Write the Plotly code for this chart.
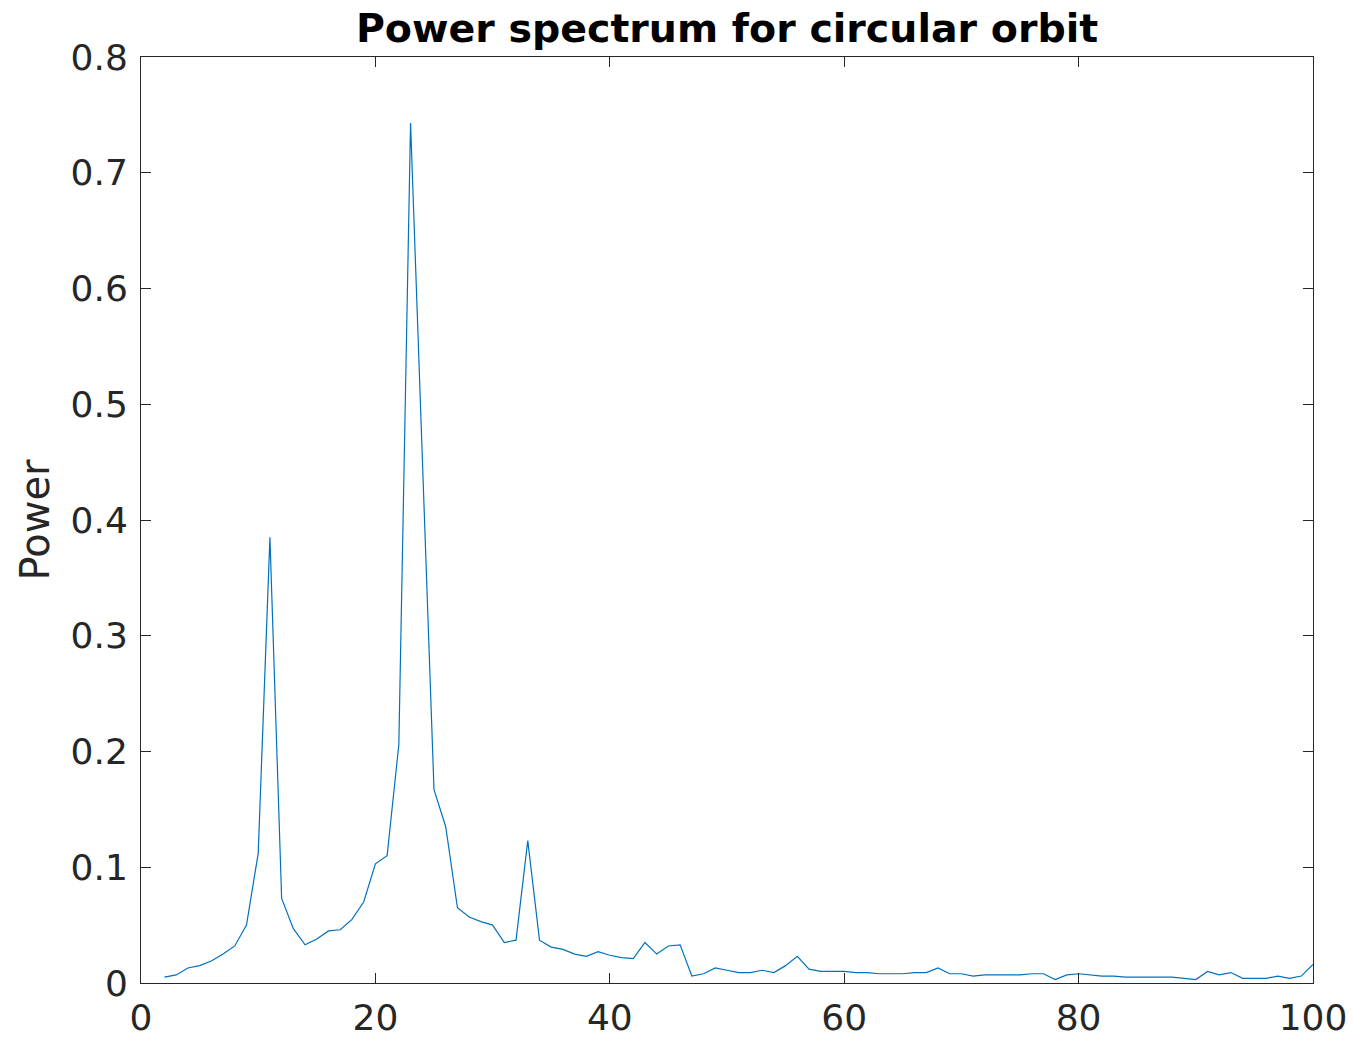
import plotly.graph_objects as go

freq = list(range(2, 101))
power = [
    0.005, 0.007, 0.013, 0.015, 0.019, 0.025, 0.032, 0.050, 0.112, 0.385,   # 2-11
    0.073, 0.047, 0.033, 0.038, 0.045, 0.046, 0.055, 0.070, 0.103, 0.110,   # 12-21
    0.206, 0.743, 0.455, 0.167, 0.135, 0.065, 0.057, 0.053, 0.050, 0.035,   # 22-31
    0.037, 0.123, 0.037, 0.031, 0.029, 0.025, 0.023, 0.027, 0.024, 0.022,   # 32-41
    0.021, 0.035, 0.025, 0.032, 0.033, 0.006, 0.008, 0.013, 0.011, 0.009,   # 42-51
    0.009, 0.011, 0.009, 0.015, 0.023, 0.012, 0.010, 0.010, 0.010, 0.009,   # 52-61
    0.009, 0.008, 0.008, 0.008, 0.009, 0.009, 0.013, 0.008, 0.008, 0.006,   # 62-71
    0.007, 0.007, 0.007, 0.007, 0.008, 0.008, 0.003, 0.007, 0.008, 0.007,   # 72-81
    0.006, 0.006, 0.005, 0.005, 0.005, 0.005, 0.005, 0.004, 0.003, 0.010,   # 82-91
    0.007, 0.009, 0.004, 0.004, 0.004, 0.006, 0.004, 0.006, 0.016,         # 92-100
]

x_ticks = [0, 20, 40, 60, 80, 100]
y_ticks = [0, 0.1, 0.2, 0.3, 0.4, 0.5, 0.6, 0.7, 0.8]
y_tick_text = ["0", "0.1", "0.2", "0.3", "0.4", "0.5", "0.6", "0.7", "0.8"]

fig = go.Figure(go.Scatter(x=freq, y=power, mode="lines",
                           line=dict(color="#0072BD", width=1.2)))

axis_common = dict(showline=True, linecolor="#262626", linewidth=1, mirror="allticks",
                   ticks="inside", ticklen=10, tickcolor="#262626", showgrid=False,
                   zeroline=False, automargin=False,
                   tickfont=dict(family="DejaVu Sans", size=36, color="#262626"))

fig.update_layout(
    width=1354, height=1039,
    paper_bgcolor="white", plot_bgcolor="white",
    margin=dict(l=141, r=41, t=57, b=56),
    title=dict(text="<b>Power spectrum for circular orbit</b>", x=0.5 + (141 - 41) / 2 / 1354,
               xanchor="center", xref="container", y=1 - 28 / 1039, yref="container",
               yanchor="middle",
               font=dict(family="DejaVu Sans", size=39.5, color="black")),
    xaxis=dict(range=[0, 100], tickvals=x_ticks, ticklabelstandoff=3, **axis_common),
    yaxis=dict(range=[0, 0.8], tickvals=y_ticks, ticktext=y_tick_text, ticklabelstandoff=5,
               title=dict(text="Power", standoff=8,
                          font=dict(family="DejaVu Sans", size=40, color="#262626")),
               **axis_common),
    showlegend=False,
)

fig.write_html("out.html", config={"displayModeBar": False},
               post_script="document.body.style.margin='0px';")
